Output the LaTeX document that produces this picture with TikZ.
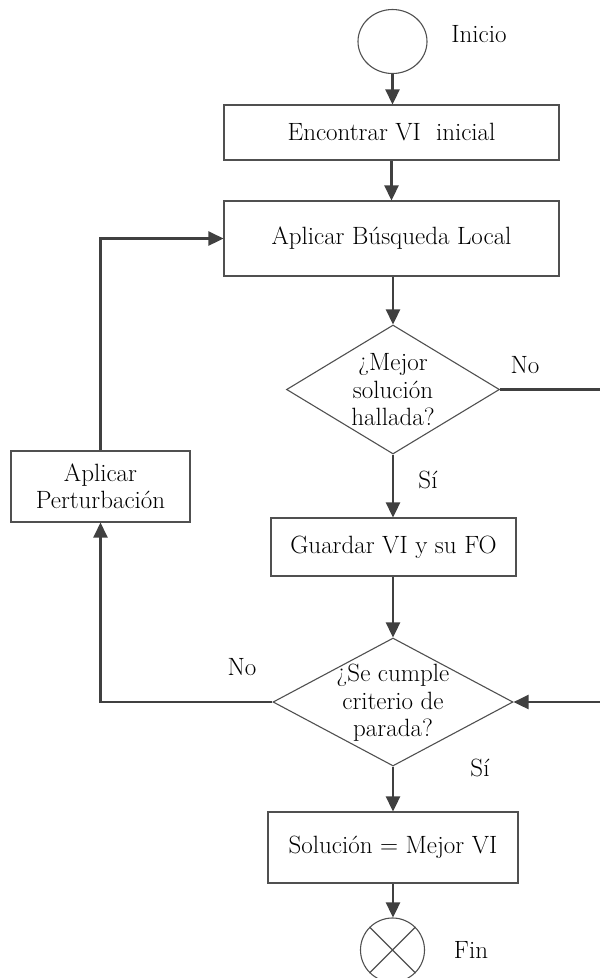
\documentclass[tikz,border=0pt]{standalone}
\usepackage{fontspec}
\setmainfont{Latin Modern Roman}
\usetikzlibrary{arrows.meta,shapes.geometric}
\definecolor{lineclr}{HTML}{404040}
\definecolor{shapeclr}{HTML}{505050}
\begin{document}
\begin{tikzpicture}[x=1pt,y=-1pt,
  every node/.style={font=\fontsize{25}{27.5}\selectfont},
  boxnode/.style={draw=shapeclr,line width=1.1pt,rectangle,inner sep=0pt,align=center},
  decnode/.style={draw=shapeclr,line width=1.1pt,diamond,inner sep=0pt},
  termnode/.style={draw=shapeclr,line width=1.1pt,ellipse,inner sep=0pt},
  txt/.style={align=center,inner sep=0pt},
  conn/.style={draw=lineclr,line width=2.6pt},
  arr/.style={conn,-{Triangle[length=15pt,width=14pt]}}]
\useasboundingbox (0,0) rectangle (600,978);
% shapes
\node[termnode,minimum width=69pt,minimum height=64pt] (start) at (392.5,41.5) {};
\node[txt] (inicio) at (479,34) {Inicio};
\node[boxnode,minimum width=335pt,minimum height=55pt] (b1) at (391.5,132.5) {Encontrar VI\ \ inicial};
\node[boxnode,minimum width=335pt,minimum height=75pt] (b2) at (391.5,238.5) {Aplicar Búsqueda Local};
\node[decnode,minimum width=213pt,minimum height=129pt] (d1) at (393,389.5) {};
\node[txt] (d1t) at (393,390) {¿Mejor\\solución\\hallada?};
\node[boxnode,minimum width=245pt,minimum height=58pt] (b3) at (393.5,547) {Guardar VI y su FO};
\node[decnode,minimum width=240pt,minimum height=128pt] (d2) at (393,702) {};
\node[txt] (d2t) at (393,703) {¿Se cumple\\criterio de\\parada?};
\node[boxnode,minimum width=179pt,minimum height=71pt] (pert) at (100.5,486.5) {Aplicar\\Perturbación};
\node[boxnode,minimum width=250pt,minimum height=71pt] (b4) at (393,847.5) {Solución = Mejor VI};
\node[draw=shapeclr,line width=1.1pt,circle,minimum size=64pt,inner sep=0pt] (fin) at (392.5,950) {};
\draw[draw=shapeclr,line width=1.1pt] (fin.45) -- (fin.225) (fin.135) -- (fin.315);
\node[txt] (fint) at (471,950) {Fin};
% labels
\node[txt] (no1) at (525,365) {No};
\node[txt] (si1) at (428,480) {Sí};
\node[txt] (no2) at (242,667) {No};
\node[txt] (si2) at (480,768) {Sí};
% connectors
\coordinate (r1) at (603,389.5);
\coordinate (r2) at (603,702);
\draw[arr] (start.south) -- (start.south |- b1.north);
\draw[arr] (b1.south) -- (b1.south |- b2.north);
\draw[arr] (b2.south -| d1.north) -- (d1.north);
\draw[arr] (d1.south) -- (d1.south |- b3.north);
\draw[arr] (b3.south -| d2.north) -- (d2.north);
\draw[arr] (d2.south) -- (b4.north);
\draw[arr] (b4.south) -- (b4.south |- fin.north);
\draw[arr] (d1.east) -- (r1) -- (r2) -- (d2.east);
\draw[arr] (d2.west) -| (pert.south);
\draw[arr] (pert.north) |- (b2.west);
\end{tikzpicture}
\end{document}
